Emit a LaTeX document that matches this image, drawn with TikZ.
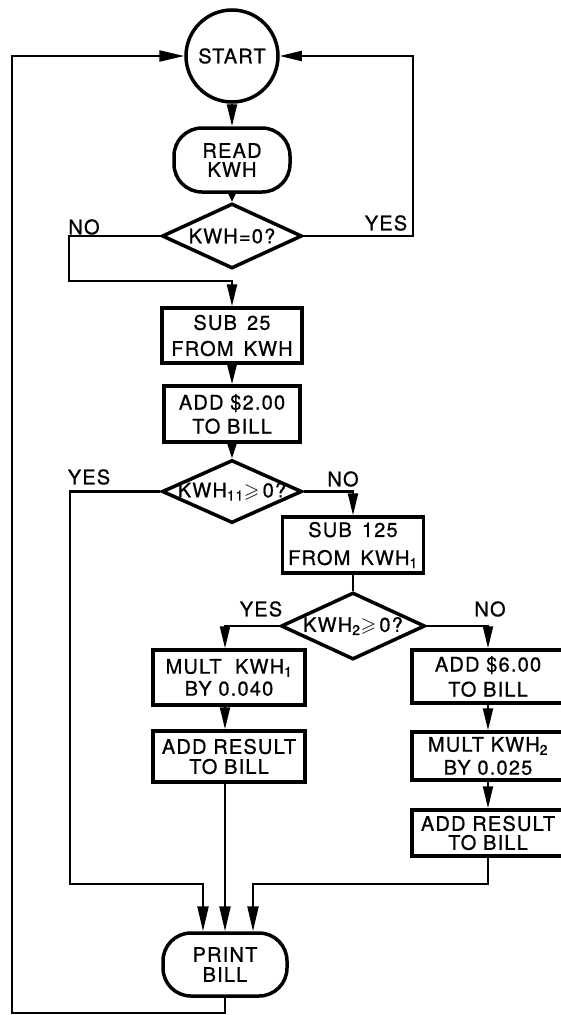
\documentclass[tikz,border=0pt]{standalone}
\usepackage{amssymb}
\usepackage{fontspec}
\setmainfont{TeX Gyre Heros}[LetterSpace=6,FakeBold=0.8]
\usetikzlibrary{shapes.geometric,arrows.meta}
\begin{document}
\begin{tikzpicture}[x=1pt,y=-1pt,
  every node/.style={font=\fontsize{20}{20}\selectfont, inner sep=0pt},
  box/.style={draw, line width=3.5pt, rectangle, align=center},
  term/.style={draw, line width=3.5pt, rectangle, rounded corners=28pt, align=center},
  startc/.style={draw, line width=3.5pt, circle, minimum size=92pt},
  dec/.style={draw, line width=3.5pt, diamond},
  conn/.style={line width=2.2pt},
  arr/.style={conn, -{Triangle[length=22pt,width=10pt]}},
  arrshort/.style={conn, -{Triangle[length=#1,width=10pt]}},
  arrlong/.style={conn, -{Triangle[length=25pt,width=11pt]}}
]
\useasboundingbox (0,0) rectangle (561,1015);

% nodes
\node[startc] (start) at (232,56) {START};
\node[term, minimum width=116pt, minimum height=64pt] (read) at (232,160) {READ\\[-1pt]KWH};
\node[dec, minimum width=140pt, minimum height=65pt] (d1) at (232,236) {\makebox[0pt]{KWH=0?}};
\node[box, minimum width=140pt, minimum height=55pt] (sub25) at (232,335.5) {SUB\ \,25\\[6pt]FROM\ \,KWH};
\node[box, minimum width=136pt, minimum height=56pt] (add2) at (232,414) {ADD \$2.00\\[4pt]TO BILL};
\node[dec, minimum width=140pt, minimum height=63pt] (d2) at (232,491.5) {\makebox[0pt]{KWH\textsubscript{11}$\geqslant$\,0?}};
\node[box, minimum width=141pt, minimum height=56pt] (sub125) at (353,545) {SUB\ \,125\\[8pt]FROM\ \,KWH\textsubscript{1}};
\node[dec, minimum width=144pt, minimum height=67pt] (d3) at (353,626) {\makebox[0pt]{KWH\textsubscript{2}$\geqslant$\,0?}};
\node[box, minimum width=152pt, minimum height=55pt] (mult1) at (229,677.5) {MULT\ \ KWH\textsubscript{1}\\[2pt]BY 0.040};
\node[box, minimum width=152pt, minimum height=51pt] (addrl) at (229,756.5) {ADD RESULT\\TO BILL};
\node[box, minimum width=152pt, minimum height=53pt] (add6) at (488,676.5) {ADD \$6.00\\[5pt]TO BILL};
\node[box, minimum width=152pt, minimum height=48pt] (mult2) at (488,756) {MULT KWH\textsubscript{2}\\[3pt]BY 0.025};
\node[box, minimum width=152pt, minimum height=46pt] (addrr) at (488,833) {ADD RESULT\\[-1pt]TO BILL};
\node[term, minimum width=124pt, minimum height=63pt] (print) at (225,964.5) {PRINT\\BILL};

% labels
\node (no1) at (84,227) {NO};
\node (yes1) at (386,223) {YES};
\node (yes2) at (89,477) {YES};
\node (no2) at (343,479) {NO};
\node (yes3) at (261,609) {YES};
\node (no3) at (490,609) {NO};

% corner coordinates
\coordinate (yr) at (413,56);
\coordinate (n1) at (69,281);
\coordinate (y2) at (70,884);
\coordinate (r2) at (253,884);
\coordinate (lb) at (12,1013);

% connectors
\draw[arr] (start.south) -- (read.north);
\draw[arrshort=11pt] (read.south) -- (d1.north);
\draw[arr] (d1.east) -| (yr) -- (start.east);
\draw[arr] (d1.west) -| (n1) -| (sub25.north);
\draw[arrshort=21pt] (sub25.south) -- (add2.north);
\draw[arrshort=16pt] (add2.south) -- (d2.north);
\draw[arrlong] (d2.west) -| (y2) -| ([xshift=-22pt]print.north);
\draw[arr] (d2.east) -| (sub125.north);
\draw[conn] (sub125.south) -- (d3.north);
\draw[arr] (d3.west) -| ([xshift=-4pt]mult1.north);
\draw[arr] (d3.east) -| (add6.north);
\draw[arr] ([xshift=-4pt]mult1.south) -- ([xshift=-4pt]addrl.north);
\draw[arrlong] ([xshift=-4pt]addrl.south) -- (print.north);
\draw[arr] (add6.south) -- (mult2.north);
\draw[arr] (mult2.south) -- (addrr.north);
\draw[arrlong] (addrr.south) |- (r2) -- ([xshift=28pt]print.north);
\draw[arrlong] (print.south) |- (lb) |- (start.west);
\end{tikzpicture}
\end{document}
